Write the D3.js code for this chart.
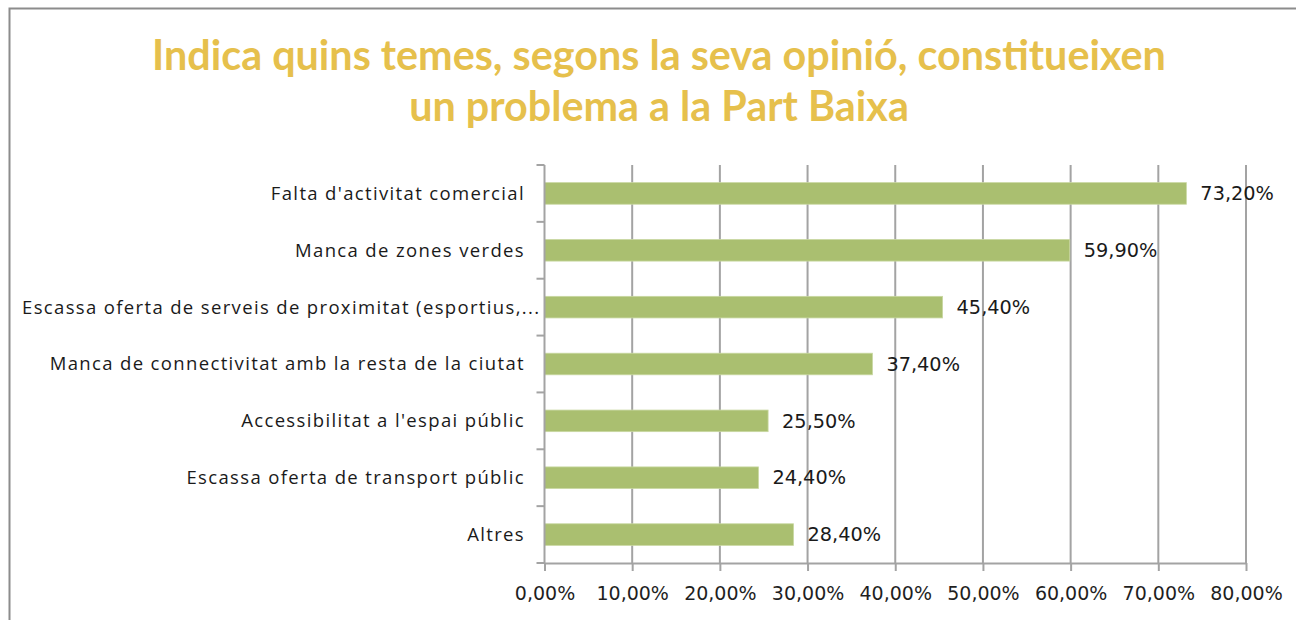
<!DOCTYPE html>
<html><head><meta charset="utf-8">
<script src="https://cdn.jsdelivr.net/npm/d3@7"></script>
<style>body{margin:0;background:#fff}svg{display:block}</style>
</head><body>
<svg id="c" width="1296" height="620"></svg>
<script>
const titleLines = ["Indica quins temes, segons la seva opinió, constitueixen", "un problema a la Part Baixa"];
const categories = [
  "Falta d'activitat comercial",
  "Manca de zones verdes",
  "Escassa oferta de serveis de  proximitat (esportius,...",
  "Manca de connectivitat amb la resta de  la ciutat",
  "Accessibilitat a l'espai públic",
  "Escassa oferta de transport públic",
  "Altres"
];
const values = [73.2, 59.9, 45.4, 37.4, 25.5, 24.4, 28.4];
const ticks = [0, 10, 20, 30, 40, 50, 60, 70, 80];

const svg = d3.select("#c");
const fmt = v => d3.format(".2f")(v).replace(".", ",") + "%";

// chart border
svg.append("rect").attr("x", 9.5).attr("y", 8.5).attr("width", 1400).attr("height", 700)
  .attr("fill", "#fff").attr("stroke", "#8c8c8c").attr("stroke-width", 2);

// title
const titleFont = "Lato, 'Open Sans', sans-serif";
svg.selectAll("text.title").data(titleLines).join("text")
  .attr("class", "title")
  .attr("x", 659).attr("y", (d, i) => 70 + i * 51)
  .attr("text-anchor", "middle")
  .attr("font-family", titleFont).attr("font-weight", 700).attr("font-size", 41.3)
  .attr("fill", "#E6C04C")
  .text(d => d);

const x = d3.scaleLinear().domain([0, 80]).range([544.5, 1246]);
const y = d3.scaleBand().domain(categories).range([165, 563]).paddingInner(0.62).paddingOuter(0.31);

const grid = "#a3a3a3";
// gridlines
svg.append("g").selectAll("line").data(ticks.slice(1)).join("line")
  .attr("x1", d => x(d)).attr("x2", d => x(d))
  .attr("y1", 165).attr("y2", 563)
  .attr("stroke", grid).attr("stroke-width", 2);

// bars
svg.append("g").selectAll("rect").data(values).join("rect")
  .attr("x", x(0)).attr("y", (d, i) => y(categories[i]))
  .attr("width", d => x(d) - x(0)).attr("height", y.bandwidth())
  .attr("fill", "#AABF70").attr("stroke", "#c9d8a2").attr("stroke-width", 0.8);

// x axis
const xAxis = d3.axisBottom(x).tickValues(ticks).tickFormat(fmt).tickSize(8).tickSizeOuter(0);
const gx = svg.append("g").attr("transform", "translate(0,563)").call(xAxis);
gx.select(".domain").attr("stroke", grid).attr("stroke-width", 2);
gx.selectAll(".tick line").attr("stroke", grid).attr("stroke-width", 2);
gx.selectAll(".tick text").attr("font-family", "'DejaVu Sans', Verdana, sans-serif")
  .attr("font-size", 19).attr("fill", "#1f1f1f").attr("y", 24).attr("dy", "0.71em");

// y axis line + band ticks
svg.append("line").attr("x1", x(0)).attr("x2", x(0)).attr("y1", 165).attr("y2", 563)
  .attr("stroke", grid).attr("stroke-width", 2);
const bounds = d3.range(categories.length + 1).map(i => 165 + i * y.step());
svg.append("g").selectAll("line").data(bounds).join("line")
  .attr("x1", x(0) - 8).attr("x2", x(0)).attr("y1", d => d).attr("y2", d => d)
  .attr("stroke", grid).attr("stroke-width", 2);

// category labels
const labels = svg.append("g").selectAll("text").data(categories).join("text")
  .attr("x", 525).attr("y", d => y(d) + y.bandwidth() / 2)
  .attr("dy", "0.35em").attr("text-anchor", "end")
  .attr("font-family", "'Open Sans', sans-serif").attr("font-size", 18.5)
  .attr("letter-spacing", 1.35).attr("fill", "#1a1a1a")
  .text(d => d);
labels.each(function () {
  const w = this.getComputedTextLength();
  if (525 - w < 22) d3.select(this).attr("text-anchor", "start").attr("x", 22);
});

// value labels
svg.append("g").selectAll("text").data(values).join("text")
  .attr("x", d => x(d) + 14).attr("y", (d, i) => y(categories[i]) + y.bandwidth() / 2)
  .attr("dy", "0.35em")
  .attr("font-family", "'DejaVu Sans', Verdana, sans-serif").attr("font-size", 19.3).attr("fill", "#1a1a1a")
  .text(d => fmt(d));
</script>
</body></html>
